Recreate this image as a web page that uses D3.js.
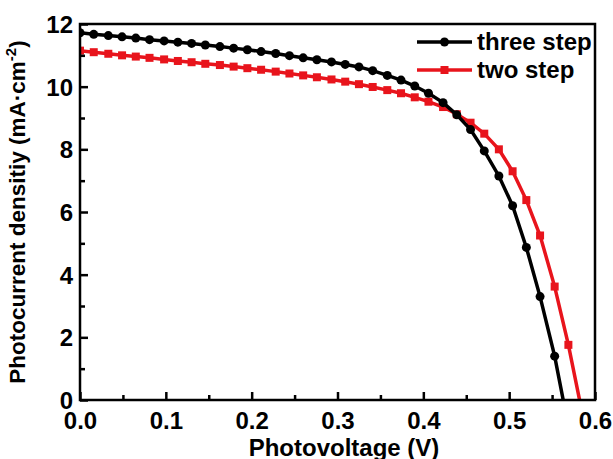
<!DOCTYPE html>
<html>
<head>
<meta charset="utf-8">
<script src="https://cdn.jsdelivr.net/npm/d3@7"></script>
<style>
  body { margin: 0; background: #fff; }
  svg { display: block; font-family: "Liberation Sans", Arial, sans-serif; font-weight: bold; }
</style>
</head>
<body>
<div id="chart"></div>
<script>
// photovoltage sample points (V)
var voltage = [0.000, 0.016, 0.033, 0.049, 0.065, 0.081, 0.098, 0.114, 0.130, 0.146,
               0.163, 0.179, 0.195, 0.211, 0.228, 0.244, 0.260, 0.276, 0.293, 0.309,
               0.325, 0.341, 0.358, 0.374, 0.390, 0.406, 0.423, 0.439, 0.455, 0.471,
               0.488, 0.504, 0.520, 0.536, 0.553, 0.569, 0.585];

// photocurrent density (mA/cm2)
var three_step = [11.72, 11.67, 11.63, 11.59, 11.55, 11.50, 11.46, 11.42, 11.38, 11.33,
                  11.28, 11.23, 11.18, 11.12, 11.06, 10.99, 10.92, 10.86, 10.79, 10.71,
                  10.63, 10.51, 10.36, 10.21, 10.02, 9.79, 9.49, 9.10, 8.63, 7.95,
                  7.15, 6.20, 4.87, 3.30, 1.40, -0.85];
var two_step = [11.15, 11.10, 11.05, 11.00, 10.96, 10.92, 10.87, 10.82, 10.78, 10.73,
                10.69, 10.64, 10.59, 10.54, 10.48, 10.42, 10.36, 10.30, 10.23, 10.16,
                10.08, 9.99, 9.89, 9.79, 9.66, 9.52, 9.35, 9.12, 8.85, 8.50,
                8.00, 7.30, 6.38, 5.25, 3.62, 1.76, -0.40];

var series_names = ["three step", "two step"];
var x_ticks = [0, 0.1, 0.2, 0.3, 0.4, 0.5, 0.6];
var x_minor = [0.05, 0.15, 0.25, 0.35, 0.45, 0.55];
var y_ticks = [0, 2, 4, 6, 8, 10, 12];
var y_minor = [1, 3, 5, 7, 9, 11];

var W = 613, H = 459;
var m = {left: 80, right: 18, top: 24, bottom: 59};
var red = "#e8141c";
var font = "Liberation Sans, Arial, sans-serif";

var svg = d3.select("#chart").append("svg")
  .attr("width", W).attr("height", H);

var x = d3.scaleLinear().domain([0, 0.6]).range([m.left, W - m.right]);
var y = d3.scaleLinear().domain([0, 12]).range([H - m.bottom, m.top]);

// clip to plot box
svg.append("clipPath").attr("id", "plotclip")
  .append("rect")
  .attr("x", x(0)).attr("y", y(12))
  .attr("width", x(0.6) - x(0)).attr("height", y(0) - y(12));

var plot = svg.append("g").attr("clip-path", "url(#plotclip)");

var line = d3.line()
  .x(function(d){ return x(d[0]); })
  .y(function(d){ return y(d[1]); });

var black_pts = three_step.map(function(v, i){ return [voltage[i], v]; });
var red_pts = two_step.map(function(v, i){ return [voltage[i], v]; });

// two step (red squares)
plot.append("path").datum(red_pts)
  .attr("d", line).attr("fill", "none")
  .attr("stroke", red).attr("stroke-width", 3.5);
plot.selectAll(".sq").data(red_pts).enter().append("rect")
  .attr("class", "sq")
  .attr("x", function(d){ return x(d[0]) - 4; })
  .attr("y", function(d){ return y(d[1]) - 4; })
  .attr("width", 8).attr("height", 8)
  .attr("fill", red);

// three step (black circles)
plot.append("path").datum(black_pts)
  .attr("d", line).attr("fill", "none")
  .attr("stroke", "#000").attr("stroke-width", 3.5);
plot.selectAll(".dot").data(black_pts).enter().append("circle")
  .attr("class", "dot")
  .attr("cx", function(d){ return x(d[0]); })
  .attr("cy", function(d){ return y(d[1]); })
  .attr("r", 4.5).attr("fill", "#000");

// axes, ticks inward
var xAxis = d3.axisBottom(x).tickValues(x_ticks).tickSize(-8)
  .tickFormat(d3.format(".1f"));
var gx = svg.append("g").attr("transform", "translate(0," + y(0) + ")").call(xAxis);
svg.append("g").attr("transform", "translate(0," + y(0) + ")")
  .call(d3.axisBottom(x).tickValues(x_minor).tickSize(-5).tickFormat(""));

var yAxis = d3.axisLeft(y).tickValues(y_ticks).tickSize(-8);
var gy = svg.append("g").attr("transform", "translate(" + x(0) + ",0)").call(yAxis);
svg.append("g").attr("transform", "translate(" + x(0) + ",0)")
  .call(d3.axisLeft(y).tickValues(y_minor).tickSize(-5).tickFormat(""));

svg.selectAll(".domain").remove();
svg.selectAll(".tick line").attr("stroke", "#000").attr("stroke-width", 2.5);

gx.selectAll("text").attr("font-size", 24).attr("font-family", font)
  .attr("font-weight", "bold").attr("fill", "#000").attr("dy", null).attr("y", 29);
gy.selectAll("text").attr("font-size", 24).attr("font-family", font)
  .attr("font-weight", "bold").attr("fill", "#000").attr("x", -7).attr("dy", "0.36em");

// frame
svg.append("rect")
  .attr("x", x(0)).attr("y", y(12))
  .attr("width", x(0.6) - x(0)).attr("height", y(0) - y(12))
  .attr("fill", "none").attr("stroke", "#000").attr("stroke-width", 2.5);

// axis titles
svg.append("text")
  .attr("x", 344).attr("y", 456)
  .attr("text-anchor", "middle").attr("font-size", 24)
  .text("Photovoltage (V)");

var yt = svg.append("text")
  .attr("transform", "translate(25," + ((y(0) + y(12)) / 2) + ") rotate(-90)")
  .attr("text-anchor", "middle").attr("font-size", 22.5);
yt.append("tspan").text("Photocurrent densitiy (mA\u00b7cm");
yt.append("tspan").attr("font-size", 15).attr("dy", -9).text("-2");
yt.append("tspan").attr("dy", 9).text(")");

// legend
var leg = svg.append("g");
var leg_y = [42, 70];
var leg_col = ["#000", red];
series_names.forEach(function(name, i){
  leg.append("line")
    .attr("x1", 417).attr("x2", 472)
    .attr("y1", leg_y[i]).attr("y2", leg_y[i])
    .attr("stroke", leg_col[i]).attr("stroke-width", 3.5);
  if (i == 0) {
    leg.append("circle").attr("cx", 444.5).attr("cy", leg_y[i]).attr("r", 4.5).attr("fill", "#000");
  } else {
    leg.append("rect").attr("x", 440.5).attr("y", leg_y[i] - 4)
      .attr("width", 8).attr("height", 8).attr("fill", red);
  }
  leg.append("text")
    .attr("x", 477).attr("y", leg_y[i] + 8)
    .attr("font-size", 24).attr("fill", "#000")
    .text(name);
});
</script>
</body>
</html>
